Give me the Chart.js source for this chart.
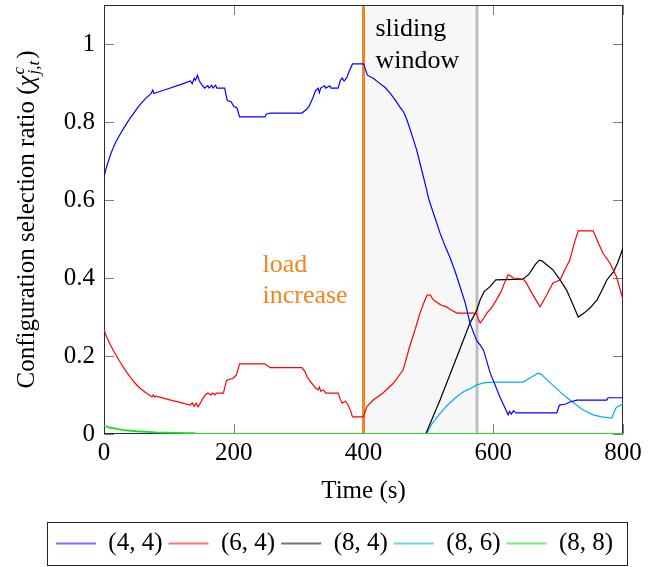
<!DOCTYPE html>
<html>
<head>
<meta charset="utf-8">
<script src="https://cdn.jsdelivr.net/npm/chart.js@4/dist/chart.umd.min.js"></script>
<style>
  html, body { margin: 0; padding: 0; background: #ffffff; }
  #wrap { width: 657px; height: 567px; }
</style>
</head>
<body>
<div id="wrap"><canvas id="c" width="657" height="567"></canvas></div>
<script>
const SERIF = '"Liberation Serif", "Times New Roman", "DejaVu Serif", serif';

// Configurations (cores, frequency level) shown in the legend
const seriesNames = ['(4, 4)', '(6, 4)', '(8, 4)', '(8, 6)', '(8, 8)'];
const lineColors = ['#0000ff', '#ff0000', '#000000', '#00aeef', '#1ee01e'];
const legendColors = ['#7373ff', '#ff7373', '#737373', '#73cdf4', '#73f073'];
const lineWidths = [1.2, 1.2, 1.2, 1.2, 1.8];

// Selection ratio over time, one pair of arrays per configuration
const time44 = [0, 3, 6, 10, 14, 18, 24, 30, 36, 42, 48, 55, 60, 65, 70, 73, 75, 77, 80, 100, 120, 133, 136, 139, 141, 144, 147, 151, 155, 160, 162, 166, 168, 172, 174, 186, 190, 196, 200, 205, 209, 248, 250, 256, 305, 312, 316, 322, 326, 330, 332, 334, 340, 342, 348, 350, 361, 364, 367, 370, 374, 378, 383, 400, 403, 406, 415, 425, 433, 441, 449, 456, 462, 467, 475, 482, 490, 496, 501, 510, 518, 525, 533, 541, 549, 557, 564, 570, 575, 580, 585, 595, 610, 623, 625, 628, 631, 635, 698, 702, 712, 718, 729, 775, 777, 800];
const ratio44 = [0.66, 0.679, 0.696, 0.716, 0.733, 0.748, 0.766, 0.783, 0.799, 0.814, 0.828, 0.843, 0.853, 0.862, 0.869, 0.874, 0.882, 0.873, 0.875, 0.886, 0.897, 0.905, 0.898, 0.912, 0.907, 0.92, 0.905, 0.895, 0.887, 0.893, 0.887, 0.894, 0.887, 0.894, 0.887, 0.887, 0.855, 0.852, 0.84, 0.836, 0.813, 0.813, 0.82, 0.823, 0.823, 0.832, 0.84, 0.862, 0.88, 0.887, 0.875, 0.887, 0.893, 0.887, 0.893, 0.887, 0.887, 0.905, 0.913, 0.905, 0.913, 0.93, 0.949, 0.949, 0.935, 0.92, 0.912, 0.899, 0.889, 0.874, 0.856, 0.839, 0.825, 0.805, 0.765, 0.728, 0.675, 0.635, 0.6, 0.555, 0.515, 0.485, 0.454, 0.418, 0.377, 0.335, 0.285, 0.258, 0.238, 0.228, 0.215, 0.158, 0.096, 0.049, 0.058, 0.051, 0.06, 0.054, 0.054, 0.074, 0.077, 0.082, 0.087, 0.087, 0.093, 0.093];

const time64 = [0, 3, 6, 10, 15, 20, 25, 30, 35, 40, 47, 55, 65, 74, 76, 78, 80, 100, 120, 133, 136, 139, 142, 145, 148, 151, 154, 156, 160, 165, 167, 171, 173, 184, 189, 199, 204, 209, 248, 256, 305, 310, 313, 318, 326, 330, 332, 334, 338, 342, 361, 364, 367, 372, 376, 380, 383, 400, 405, 415, 430, 446, 461, 471, 480, 487, 495, 498, 503, 507, 513, 520, 528, 535, 544, 574, 578, 580, 586, 590, 597, 605, 612, 618, 623, 627, 631, 646, 650, 660, 672, 682, 692, 703, 710, 718, 725, 731, 754, 762, 769, 780, 790, 800];
const ratio64 = [0.267, 0.254, 0.242, 0.228, 0.212, 0.198, 0.184, 0.171, 0.158, 0.147, 0.132, 0.118, 0.105, 0.095, 0.1, 0.095, 0.097, 0.088, 0.08, 0.074, 0.08, 0.071, 0.079, 0.07, 0.078, 0.087, 0.095, 0.1, 0.105, 0.1, 0.105, 0.1, 0.105, 0.105, 0.138, 0.143, 0.151, 0.18, 0.18, 0.17, 0.17, 0.16, 0.146, 0.135, 0.118, 0.113, 0.12, 0.11, 0.113, 0.105, 0.105, 0.09, 0.079, 0.084, 0.075, 0.06, 0.044, 0.044, 0.07, 0.087, 0.105, 0.13, 0.164, 0.223, 0.27, 0.31, 0.345, 0.356, 0.356, 0.345, 0.338, 0.33, 0.326, 0.318, 0.31, 0.31, 0.29, 0.285, 0.298, 0.31, 0.323, 0.344, 0.365, 0.39, 0.408, 0.405, 0.4, 0.397, 0.39, 0.36, 0.326, 0.355, 0.387, 0.395, 0.42, 0.446, 0.49, 0.521, 0.521, 0.49, 0.464, 0.438, 0.403, 0.344];

const time84 = [0, 496, 518, 544, 564, 574, 580, 586, 595, 604, 646, 655, 665, 671, 675, 680, 692, 703, 713, 722, 731, 740, 749, 760, 768, 775, 785, 792, 800];
const ratio84 = [0, 0, 0.087, 0.198, 0.284, 0.315, 0.345, 0.365, 0.378, 0.395, 0.397, 0.41, 0.435, 0.446, 0.444, 0.437, 0.421, 0.395, 0.369, 0.335, 0.3, 0.31, 0.323, 0.344, 0.37, 0.395, 0.415, 0.44, 0.477];

const time86 = [0, 497, 505, 518, 530, 544, 556, 564, 575, 585, 600, 646, 657, 669, 674, 688, 703, 718, 738, 754, 767, 783, 787, 790, 800];
const ratio86 = [0, 0, 0.025, 0.053, 0.075, 0.096, 0.11, 0.116, 0.126, 0.131, 0.133, 0.133, 0.144, 0.156, 0.153, 0.131, 0.108, 0.087, 0.062, 0.049, 0.044, 0.041, 0.06, 0.069, 0.077];

const time88 = [0, 10, 20, 30, 50, 80, 110, 140, 141, 800];
const ratio88 = [0.021, 0.016, 0.013, 0.01, 0.007, 0.004, 0.003, 0.002, 0, 0];

const seriesTimes = [time44, time64, time84, time86, time88];
const seriesRatios = [ratio44, ratio64, ratio84, ratio86, ratio88];
const drawOrder = [1, 2, 3, 4, 0];

const xTicks = [0, 200, 400, 600, 800];
const yTicks = [0, 0.2, 0.4, 0.6, 0.8, 1];
const loadIncreaseTime = 400;
const windowEndTime = 575;

const datasets = seriesNames.map((name, i) => ({
  label: name,
  data: seriesTimes[i].map((t, k) => ({ x: t, y: seriesRatios[i][k] })),
  borderColor: lineColors[i],
  backgroundColor: lineColors[i],
  borderWidth: lineWidths[i],
  pointRadius: 0,
  tension: 0,
  fill: false,
  order: drawOrder[i]
}));

const decorations = {
  id: 'decorations',
  beforeDatasetsDraw(chart) {
    const { ctx, chartArea: a, scales: { x, y } } = chart;
    const x0 = x.getPixelForValue(loadIncreaseTime);
    const x1 = x.getPixelForValue(windowEndTime);
    ctx.save();
    // sliding window band
    ctx.fillStyle = '#f7f7f7';
    ctx.fillRect(x0, a.top, x1 - x0, a.bottom - a.top);
    // inward tick marks on all four sides
    ctx.strokeStyle = '#7d7d7d';
    ctx.lineWidth = 1;
    ctx.beginPath();
    xTicks.forEach(v => {
      const px = Math.round(x.getPixelForValue(v)) + 0.5;
      ctx.moveTo(px, a.bottom); ctx.lineTo(px, a.bottom - 10);
      ctx.moveTo(px, a.top); ctx.lineTo(px, a.top + 10);
    });
    yTicks.forEach(v => {
      const py = Math.round(y.getPixelForValue(v)) + 0.5;
      ctx.moveTo(a.left, py); ctx.lineTo(a.left + 10, py);
      ctx.moveTo(a.right, py); ctx.lineTo(a.right - 10, py);
    });
    ctx.stroke();
    // window edge and load increase marker
    ctx.lineWidth = 3;
    ctx.strokeStyle = '#bdbdbd';
    ctx.beginPath(); ctx.moveTo(x1, a.top); ctx.lineTo(x1, a.bottom); ctx.stroke();
    ctx.strokeStyle = '#f5841f';
    ctx.beginPath(); ctx.moveTo(x0, a.top); ctx.lineTo(x0, a.bottom); ctx.stroke();
    // frame
    ctx.lineWidth = 1;
    ctx.strokeStyle = '#2a2a2a';
    ctx.strokeRect(Math.round(a.left) + 0.5, Math.round(a.top) + 0.5,
                   Math.round(a.right - a.left) - 1, Math.round(a.bottom - a.top) - 1);
    ctx.restore();
  },
  afterDatasetsDraw(chart) {
    const { ctx, chartArea: a, scales: { x } } = chart;
    const x0 = x.getPixelForValue(loadIncreaseTime);
    ctx.save();
    ctx.font = '26px ' + SERIF;
    ctx.textAlign = 'left';
    ctx.textBaseline = 'alphabetic';
    ctx.fillStyle = '#000000';
    ctx.fillText('sliding', x0 + 12, a.top + 31);
    ctx.fillText('window', x0 + 12, a.top + 63);
    ctx.fillStyle = '#f5841f';
    ctx.fillText('load', x0 - 101, a.top + 267);
    ctx.fillText('increase', x0 - 101, a.top + 298);
    ctx.restore();
  },
  afterDraw(chart) {
    const { ctx, chartArea: a, legend } = chart;
    ctx.save();
    // y axis title with math symbol
    const size = 25, small = 17;
    const mainFont = size + 'px ' + SERIF;
    const mathFont = 'italic ' + size + 'px ' + SERIF;
    const scriptFont = 'italic ' + small + 'px ' + SERIF;
    const lead = 'Configuration selection ratio (';
    ctx.font = mainFont; const w0 = ctx.measureText(lead).width;
    ctx.font = mathFont; const w1 = ctx.measureText('χ').width + 1;
    ctx.font = scriptFont;
    const wScript = Math.max(ctx.measureText('c').width, ctx.measureText('j,t').width) + 2;
    ctx.font = mainFont; const wClose = ctx.measureText(')').width;
    const total = w0 + w1 + wScript + wClose;
    const cy = (a.top + a.bottom) / 2;
    ctx.translate(34, cy);
    ctx.rotate(-Math.PI / 2);
    ctx.fillStyle = '#000000';
    ctx.textAlign = 'left';
    ctx.textBaseline = 'alphabetic';
    let cx = -total / 2;
    ctx.font = mainFont; ctx.fillText(lead, cx, 0); cx += w0;
    ctx.font = mathFont; ctx.fillText('χ', cx, 0); cx += w1;
    ctx.font = scriptFont;
    ctx.fillText('c', cx, -10);
    ctx.fillText('j,t', cx, 5);
    cx += wScript;
    ctx.font = mainFont; ctx.fillText(')', cx, 0);
    ctx.restore();

    // frame around the legend
    const boxes = legend.legendHitBoxes;
    if (boxes && boxes.length) {
      const first = boxes[0], last = boxes[boxes.length - 1];
      const left = first.left - 9;
      const right = last.left + last.width + 14;
      ctx.save();
      ctx.strokeStyle = '#222222';
      ctx.lineWidth = 1;
      ctx.strokeRect(Math.round(left) + 0.5, Math.round(legend.top - 3) + 0.5,
                     Math.round(right - left), Math.round(legend.bottom - legend.top + 2));
      ctx.restore();
    }
  }
};

new Chart(document.getElementById('c'), {
  type: 'line',
  data: { datasets },
  plugins: [decorations],
  options: {
    responsive: false,
    animation: false,
    devicePixelRatio: 1,
    layout: { padding: { left: 12, right: 0, top: 5, bottom: 1 } },
    scales: {
      x: {
        type: 'linear',
        min: 0,
        max: 800,
        afterBuildTicks: s => { s.ticks = xTicks.map(v => ({ value: v })); },
        afterFit: s => { s.height = 91; s.paddingLeft = 0; s.paddingRight = 0; },
        grid: { display: false, drawTicks: false },
        border: { display: false },
        ticks: { padding: 4, color: '#000000', font: { family: SERIF, size: 25 }, maxRotation: 0,
                 callback: v => String(v) },
        title: { display: true, text: 'Time (s)', color: '#000000',
                 font: { family: SERIF, size: 25 }, padding: { top: 0, bottom: 19 } }
      },
      y: {
        type: 'linear',
        min: 0,
        max: 1.1,
        afterBuildTicks: s => { s.ticks = yTicks.map(v => ({ value: v })); },
        afterFit: s => { s.width = 92; s.paddingTop = 0; s.paddingBottom = 0; },
        grid: { display: false, drawTicks: false },
        border: { display: false },
        ticks: { padding: 9, color: '#000000', font: { family: SERIF, size: 25 },
                 callback: v => String(v) }
      },
      yRight: {
        type: 'linear',
        position: 'right',
        afterFit: s => { s.width = 34; s.paddingTop = 0; s.paddingBottom = 0; },
        grid: { display: false, drawTicks: false },
        border: { display: false },
        ticks: { display: false }
      }
    },
    plugins: {
      tooltip: { enabled: false },
      title: { display: false },
      legend: {
        position: 'bottom',
        labels: {
          sort: (a, b) => a.datasetIndex - b.datasetIndex,
          usePointStyle: true,
          pointStyle: 'line',
          pointStyleWidth: 40,
          padding: 6,
          color: '#000000',
          font: { family: SERIF, size: 25 },
          generateLabels: chart => {
            const items = Chart.defaults.plugins.legend.labels.generateLabels(chart);
            return items.map(it => Object.assign(it, {
              strokeStyle: legendColors[it.datasetIndex],
              fillStyle: legendColors[it.datasetIndex],
              lineWidth: 2,
              pointStyle: 'line'
            }));
          }
        }
      }
    }
  }
});
</script>
</body>
</html>
